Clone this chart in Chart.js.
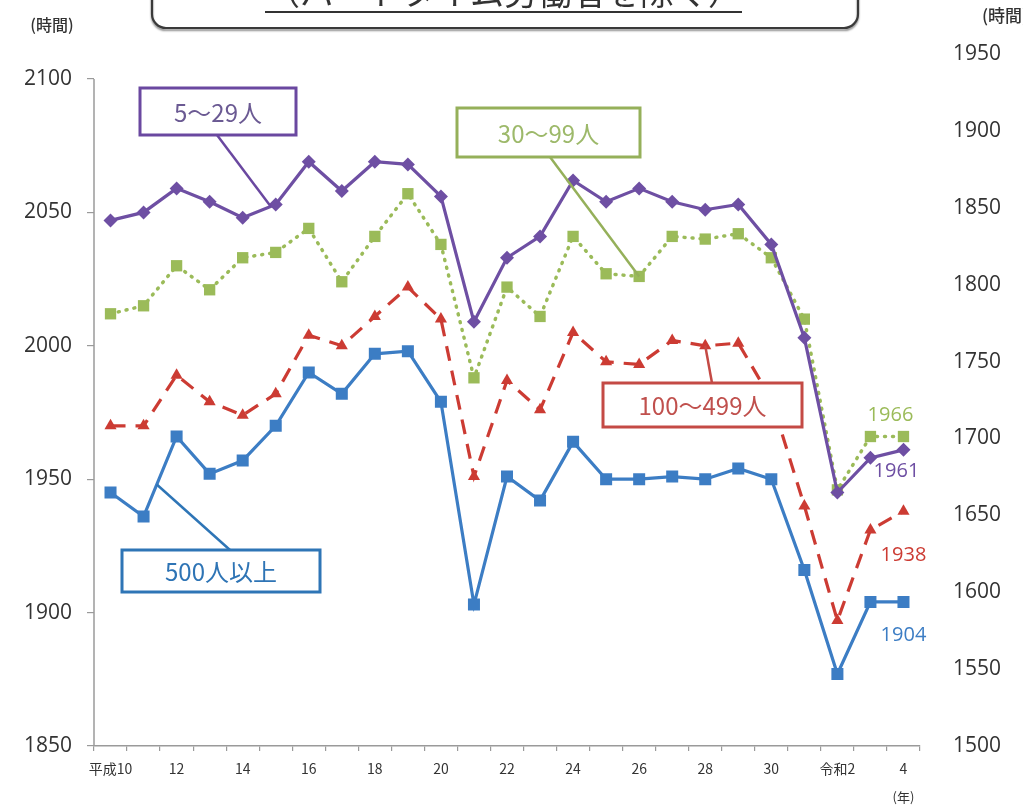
<!DOCTYPE html>
<html lang="ja">
<head>
<meta charset="utf-8">
<script src="https://cdn.jsdelivr.net/npm/chart.js@4"></script>
<style>
html,body{margin:0;padding:0;background:#fff;}
#wrap{width:1023px;height:806px;position:relative;}
</style>
</head>
<body>
<div id="wrap"><canvas id="c" width="1023" height="806"></canvas></div>
<script>
// ---- data ----
const categories = ['平成10','11','12','13','14','15','16','17','18','19','20','21','22','23','24','25','26','27','28','29','30','令和元','令和2','3','4'];
const tickLabels = ['平成10','','12','','14','','16','','18','','20','','22','','24','','26','','28','','30','','令和2','','4'];
const leftTicks = [1850,1900,1950,2000,2050,2100];
const rightTicks = [1500,1550,1600,1650,1700,1750,1800,1850,1900,1950];
const seriesNames = ['5～29人','30～99人','100～499人','500人以上'];
const size5to29 = [2047,2050,2059,2054,2048,2053,2069,2058,2069,2068,2056,2009,2033,2041,2062,2054,2059,2054,2051,2053,2038,2003,1945,1958,1961];
const size30to99 = [2012,2015,2030,2021,2033,2035,2044,2024,2041,2057,2038,1988,2022,2011,2041,2027,2026,2041,2040,2042,2033,2010,1946,1966,1966];
const size100to499 = [1970,1970,1989,1979,1974,1982,2004,2000,2011,2022,2010,1951,1987,1976,2005,1994,1993,2002,2000,2001,1980,1940,1897,1931,1938];
const size500plus = [1945,1936,1966,1952,1957,1970,1990,1982,1997,1998,1979,1903,1951,1942,1964,1950,1950,1951,1950,1954,1950,1916,1877,1904,1904];
const endLabels = ['1961','1966','1938','1904'];

const PURPLE = '#6E4FA3', GREEN = '#9BBB59', RED = '#CC3B33', BLUE = '#3C7DC4';
const AXIS = '#9a9a9a', TXT = '#333333';
const NUMFONT = '"Open Sans", "Noto Sans CJK JP", sans-serif';
const JPFONT = '"Noto Sans CJK JP", sans-serif';

const decor = {
  id: 'decor',
  afterDraw(chart) {
    const ctx = chart.ctx;
    const x = chart.scales.x, y = chart.scales.y;
    const ca = chart.chartArea;
    const pt = (di, i) => chart.getDatasetMeta(di).data[i];
    ctx.save();
    // left axis line
    ctx.strokeStyle = AXIS; ctx.lineWidth = 1.5;
    ctx.beginPath();
    ctx.moveTo(ca.left, y.getPixelForValue(leftTicks[leftTicks.length-1]));
    ctx.lineTo(ca.left, y.getPixelForValue(leftTicks[0]));
    ctx.stroke();

    // top title box (cut off)
    ctx.save();
    ctx.shadowColor = 'rgba(0,0,0,0.45)'; ctx.shadowOffsetY = 2; ctx.shadowBlur = 2;
    ctx.strokeStyle = '#3a3a3a'; ctx.lineWidth = 2.2;
    ctx.beginPath();
    ctx.roundRect(152, -40, 706, 68, 14);
    ctx.stroke();
    ctx.restore();
    ctx.fillStyle = '#333';
    ctx.font = '34px ' + JPFONT;
    ctx.textAlign = 'center'; ctx.textBaseline = 'alphabetic';
    ctx.fillText('（パートタイム労働者を除く）', 504, 5);
    ctx.fillRect(265, 11, 477, 2);

    // axis unit labels
    ctx.fillStyle = TXT;
    ctx.font = '500 16px ' + JPFONT;
    ctx.textAlign = 'center'; ctx.textBaseline = 'middle';
    ctx.fillText('(時間)', 52, 25);
    ctx.textAlign = 'left';
    ctx.font = '500 17px ' + JPFONT;
    ctx.fillText('(時間)', 982, 16);
    ctx.font = '13px ' + JPFONT;
    ctx.textAlign = 'center';
    ctx.fillText('(年)', x.getPixelForValue(categories.length-1), 797);

    // end value labels
    const last = categories.length - 1;
    ctx.font = '20px ' + NUMFONT;
    const endOff = [[-7,21],[-13,-21],[0,44],[0,33]];
    const cols = [PURPLE, GREEN, RED, BLUE];
    for (let d = 0; d < 4; d++) {
      const p = pt(d, last);
      ctx.fillStyle = cols[d];
      ctx.fillText(endLabels[d], p.x + endOff[d][0], p.y + endOff[d][1]);
    }

    // callout boxes
    const lerp = (a, b, t) => ({x: a.x + (b.x - a.x)*t, y: a.y + (b.y - a.y)*t});
    const callouts = [
      {d:0, box:[140,88,156,47], from:[217,135], to: lerp(pt(0,4), pt(0,5), 0.85), col:'#6A48A0', tcol:'#6B5A93'},
      {d:1, box:[457,108,183,49], from:[550,157], to: pt(1,16), col:'#95B05A', tcol:'#9DB96A'},
      {d:2, box:[603,383,199,44], from:[712,383], to: pt(2,18), col:'#C44A45', tcol:'#C0504D'},
      {d:3, box:[122,550,198,42], from:[230,550], to: lerp(pt(3,1), pt(3,2), 0.4), col:'#2E75B6', tcol:'#2E74B5'}
    ];
    callouts.forEach(c => {
      ctx.strokeStyle = c.col; ctx.lineWidth = 2.5;
      ctx.beginPath(); ctx.moveTo(c.from[0], c.from[1]); ctx.lineTo(c.to.x, c.to.y); ctx.stroke();
      ctx.fillStyle = '#fff';
      ctx.fillRect(c.box[0], c.box[1], c.box[2], c.box[3]);
      ctx.lineWidth = 3;
      ctx.strokeRect(c.box[0], c.box[1], c.box[2], c.box[3]);
      ctx.fillStyle = c.tcol;
      ctx.font = '24px ' + JPFONT;
      ctx.textAlign = 'center'; ctx.textBaseline = 'middle';
      ctx.fillText(seriesNames[c.d], c.box[0] + c.box[2]/2, c.box[1] + c.box[3]/2 + 1);
    });
    ctx.restore();
  }
};

new Chart(document.getElementById('c'), {
  type: 'line',
  data: {
    labels: categories,
    datasets: [
      {label: seriesNames[0], data: size5to29, borderColor: PURPLE, backgroundColor: PURPLE, borderWidth: 3.2,
       pointStyle: 'rectRot', pointRadius: 7, pointBorderWidth: 0, yAxisID: 'y'},
      {label: seriesNames[1], data: size30to99, borderColor: GREEN, backgroundColor: GREEN, borderWidth: 3.5,
       borderDash: [1, 7], borderCapStyle: 'round', pointStyle: 'rect', pointRadius: 8, pointBorderWidth: 0, yAxisID: 'y'},
      {label: seriesNames[2], data: size100to499, borderColor: RED, backgroundColor: RED, borderWidth: 3.2,
       borderDash: [15, 10], pointStyle: 'triangle', pointRadius: 7, pointBorderWidth: 0, yAxisID: 'y'},
      {label: seriesNames[3], data: size500plus, borderColor: BLUE, backgroundColor: BLUE, borderWidth: 3.2,
       pointStyle: 'rect', pointRadius: 8.5, pointBorderWidth: 0, yAxisID: 'y'}
    ]
  },
  options: {
    responsive: false, animation: false, devicePixelRatio: 1,
    layout: {padding: {top: 54, bottom: 0, left: 0, right: 0}},
    plugins: {legend: {display: false}, tooltip: {enabled: false}},
    elements: {line: {tension: 0}},
    scales: {
      x: {
        offset: true,
        grid: {offset: true, drawOnChartArea: false, drawTicks: true, tickLength: 5, color: AXIS, lineWidth: 1.2},
        border: {display: true, color: AXIS, width: 1.5},
        ticks: {autoSkip: false, maxRotation: 0, minRotation: 0, padding: 9, color: TXT,
                font: {size: 14, family: JPFONT},
                callback: (v, i) => tickLabels[i]},
        afterFit: s => { s.height = 60; }
      },
      y: {
        position: 'left', min: 1850, max: 2109.37,
        afterBuildTicks: s => { s.ticks = leftTicks.map(v => ({value: v})); },
        grid: {drawOnChartArea: false, drawTicks: true, tickLength: 7, color: AXIS, lineWidth: 1.2},
        border: {display: false},
        ticks: {padding: 15, color: TXT, font: {size: 21, family: NUMFONT}, callback: v => String(v)},
        afterFit: s => { s.width = 94; }
      },
      y2: {
        position: 'right', min: rightTicks[0], max: rightTicks[rightTicks.length-1],
        afterBuildTicks: s => { s.ticks = rightTicks.map(v => ({value: v})); },
        grid: {display: false},
        border: {display: false},
        ticks: {padding: 25, color: TXT, font: {size: 21, family: NUMFONT}, callback: v => String(v)},
        afterFit: s => { s.width = 103; }
      }
    }
  },
  plugins: [decor]
});
</script>
</body>
</html>
